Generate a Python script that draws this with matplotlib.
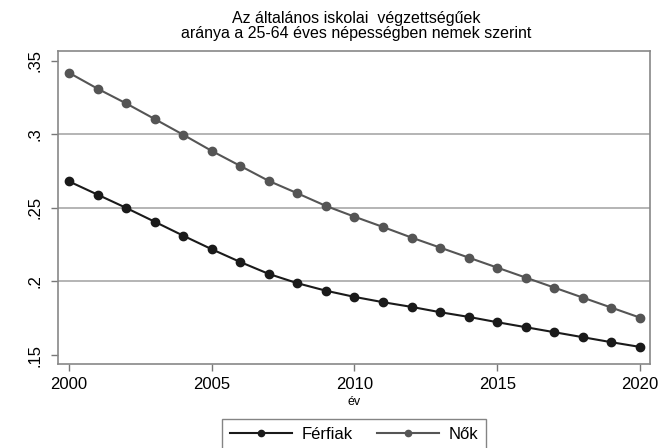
import matplotlib
matplotlib.use("Agg")
import matplotlib.pyplot as plt

plt.rcParams['font.family'] = ['Liberation Sans', 'DejaVu Sans']

years = list(range(2000, 2021))
ferfiak = [.268, .259, .250, .2406, .2311, .2219, .2132, .2051, .1988, .1937, .1895,
           .1859, .1827, .1791, .1759, .1723, .1689, .1655, .1621, .1587, .1555]
nok = [.3418, .331, .321, .3104, .2997, .2887, .2785, .2683, .2599, .2513, .244,
       .237, .2298, .223, .2162, .2094, .2026, .1958, .189, .1822, .1754]
yticks = [.15, .2, .25, .3, .35]
yticklabels = ['.15', '.2', '.25', '.3', '.35']
xticks = [2000, 2005, 2010, 2015, 2020]
title = "Az általános iskolai  végzettségűek\naránya a 25-64 éves népességben nemek szerint"

W, H = 659, 448
fig = plt.figure(figsize=(W / 100, H / 100), dpi=100)
ax = fig.add_axes([58 / W, 1 - 364 / H, (650 - 58) / W, (364 - 51) / H])

for g in [.2, .25, .3]:
    ax.axhline(g, color='#a0a0a0', lw=1.1, zorder=1)

ax.plot(years, ferfiak, color='#1a1a1a', marker='o', markersize=6, lw=1.5,
        label='Férfiak', zorder=3)
ax.plot(years, nok, color='#555555', marker='o', markersize=6, lw=1.5,
        label='Nők', zorder=3)

ax.set_xlim(1999.615, 2020.35)
ax.set_ylim(.1439, .3566)
ax.set_yticks(yticks)
ax.set_yticklabels(yticklabels, rotation=90, va='center')
ax.set_xticks(xticks)
ax.tick_params(axis='both', labelsize=12, color='#777777', length=5, width=1)
ax.tick_params(axis='y', pad=6)
ax.tick_params(axis='x', pad=4)
for s in ax.spines.values():
    s.set_color('#888888')
    s.set_linewidth(1.2)

ax.set_xlabel('év', fontsize=9, labelpad=3)
fig.text(356 / W, 1 - 11 / H, title, ha='center', va='top', fontsize=11.5,
         linespacing=1.0)

leg = fig.legend(loc='upper center', bbox_to_anchor=(354 / W, 1 - 419 / H),
                 ncol=2, fontsize=12, frameon=True, fancybox=False,
                 edgecolor='#666666', handlelength=3.7, columnspacing=1.45,
                 borderpad=0.45, handletextpad=0.6, borderaxespad=0,
                 markerscale=0.75)
leg.get_frame().set_linewidth(1.0)

fig.savefig('out.png', dpi=100)
